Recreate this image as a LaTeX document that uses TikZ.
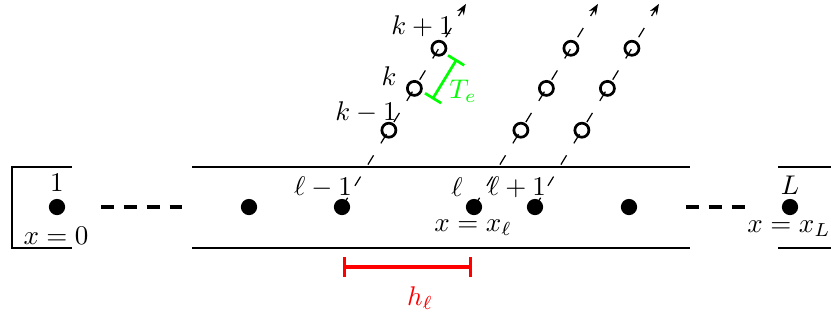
\documentclass[tikz,border=0pt]{standalone}
\usetikzlibrary{calc,arrows.meta}
\begin{document}
\begin{tikzpicture}[x=0.37pt,y=-0.37pt,
  dot/.style={circle,fill=black,inner sep=0pt,minimum size=6pt},
  site/.style={circle,draw=black,line width=1pt,inner sep=0pt,minimum size=5.2pt},
  wall/.style={line width=0.55pt},
  traj/.style={line width=0.45pt,dash pattern=on 4pt off 5.2pt,-{Stealth[length=4pt,width=3pt]}},
  gap/.style={line width=1.2pt,dash pattern=on 4.8pt off 3.7pt},
  lab/.style={inner sep=0pt},
]
\useasboundingbox (0,0) rectangle (831,320);
% walls
\draw[wall] (72,167) -- (12,167) -- (12,248) -- (72,248);
\draw[wall] (192,167) -- (690,167);
\draw[wall] (192,248) -- (690,248);
\draw[wall] (778,167) -- (831,167);
\draw[wall] (778,248) -- (831,248);
% dots
\node[dot] (d1) at (57,207) {};
\node[dot] (d2) at (249,207) {};
\node[dot] (d3) at (342,207) {};
\node[dot] (d4) at (474,207) {};
\node[dot] (d5) at (535,207) {};
\node[dot] (d6) at (629,207) {};
\node[dot] (d7) at (790,207) {};
\draw[gap,shorten <=13pt,shorten >=21.5pt] (d1) -- (d2);
\draw[gap,shorten <=17.8pt,shorten >=10pt] (d6) -- (d7);
% trajectories
\foreach \i in {3,4,5}{
  \coordinate (e\i) at ($(d\i)+(-58.6:238)$);
  \node[site] (a\i) at ($(d\i)+(-58.6:90)$) {};
  \node[site] (b\i) at ($(d\i)+(-58.6:139)$) {};
  \node[site] (c\i) at ($(d\i)+(-58.6:186)$) {};
  \draw[traj] (d\i.center) -- (e\i);
}
% T_e bracket
\coordinate (g1) at ($(b3)+(31.4:21)$);
\coordinate (g2) at ($(c3)+(31.4:21)$);
\draw[green,line width=1pt,{Bar[width=7pt]}-{Bar[width=7pt]}] (g1) -- (g2);
\node[lab,green] (te) at (463,91) {$T_e$};
% h_l bar
\coordinate (h1) at (343,267);
\coordinate (h2) at (472,267);
\draw[red,line width=1.2pt,{Bar[width=7.4pt]}-{Bar[width=7.4pt]}] (h1) -- (h2);
\node[lab,red] (hl) at (420,298) {$h_\ell$};
% labels
\node[lab] (t1) at (57,183) {$1$};
\node[lab] (tx0) at (56,236) {$x=0$};
\node[lab] (tL) at (790,185) {$L$};
\node[lab] (txL) at (789,229) {$x=x_L$};
\node[lab] (tl1) at (323,187) {$\ell-1$};
\node[lab] (tl) at (457,187) {$\ell$};
\node[lab] (tl2) at (517,187) {$\ell+1$};
\node[lab] (txl) at (473,228) {$x=x_\ell$};
\node[lab] (tk2) at (422,26) {$k+1$};
\node[lab] (tk) at (389,76) {$k$};
\node[lab] (tk1) at (366,112) {$k-1$};
\end{tikzpicture}
\end{document}
